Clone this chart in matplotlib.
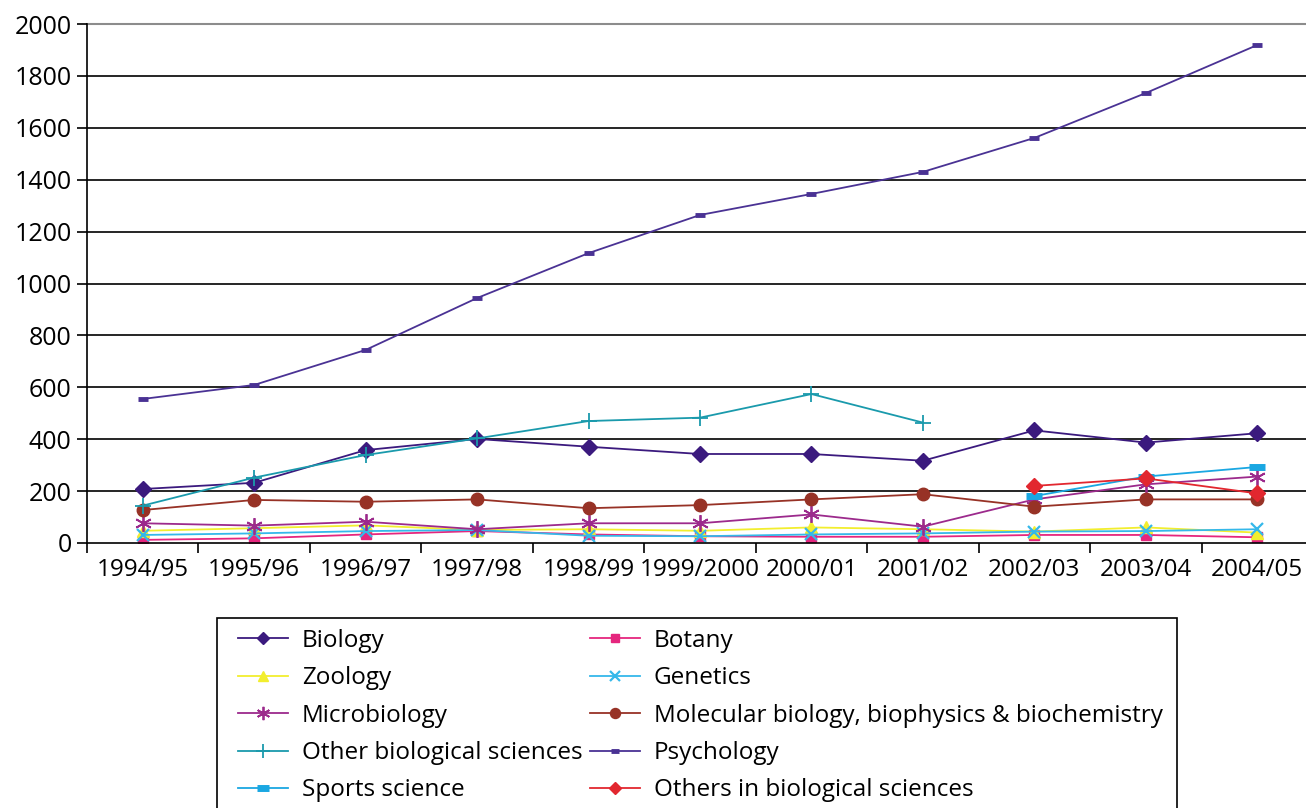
import numpy as np
import matplotlib.pyplot as plt
from matplotlib.patches import Rectangle

plt.rcParams['font.family'] = ['Open Sans', 'DejaVu Sans']

years = ["1994/95", "1995/96", "1996/97", "1997/98", "1998/99", "1999/2000",
         "2000/01", "2001/02", "2002/03", "2003/04", "2004/05"]
nan = np.nan

biology = [208, 232, 358, 401, 371, 343, 343, 317, 434, 387, 423]
botany = [12, 18, 33, 46, 33, 26, 24, 24, 31, 31, 22]
zoology = [47, 57, 68, 50, 53, 47, 60, 53, 44, 60, 40]
genetics = [31, 37, 46, 50, 28, 26, 33, 37, 44, 46, 53]
microbiology = [76, 67, 82, 53, 76, 76, 110, 63, 168, 226, 256]
molecular = [127, 166, 159, 168, 134, 146, 168, 188, 140, 168, 168]
other_bio = [144, 252, 339, 403, 470, 483, 574, 464, nan, nan, nan]
psychology = [555, 609, 744, 944, 1117, 1264, 1345, 1430, 1561, 1734, 1919]
sports = [nan, nan, nan, nan, nan, nan, nan, nan, 181, 256, 293]
others = [nan, nan, nan, nan, nan, nan, nan, nan, 220, 249, 191]

series = [
    ("Biology", biology, "#3b1a7e", dict(marker="D", ms=8)),
    ("Botany", botany, "#e5267e", dict(marker="s", ms=7)),
    ("Zoology", zoology, "#f2ee2e", dict(marker="^", ms=9)),
    ("Genetics", genetics, "#35b8ea", dict(marker="x", ms=9, mew=1.6)),
    ("Microbiology", microbiology, "#9c2a8c", dict(marker=(6, 2, 0), ms=12, mew=1.3)),
    ("Molecular biology, biophysics & biochemistry", molecular, "#973226", dict(marker="o", ms=9)),
    ("Other biological sciences", other_bio, "#1a9aac", dict(marker="+", ms=12, mew=1.3)),
    ("Psychology", psychology, "#4a3294", dict(marker="_", ms=7, mew=3.5)),
    ("Sports science", sports, "#1aa7e2", dict(marker="_", ms=11, mew=5)),
    ("Others in biological sciences", others, "#e2272f", dict(marker="D", ms=8)),
]

W, H = 1306, 808
fig = plt.figure(figsize=(W / 100, H / 100), dpi=100)
ax = fig.add_axes([87 / W, (H - 543) / H, 1226 / W, 519 / H])

x = np.arange(len(years))
handles = {}
for name, vals, col, mk in series:
    h, = ax.plot(x, vals, color=col, lw=1.3, mfc=col, mec=col, label=name, **mk)
    handles[name] = h

ax.set_xlim(-0.5, len(years) - 0.5)
ax.set_ylim(0, 2000)
ax.set_yticks(range(0, 2001, 200))
ax.set_xticks(x)
ax.set_xticklabels(years)
ax.set_xticks(np.arange(-0.5, len(years), 1), minor=True)
ax.tick_params(axis="x", which="major", length=0, pad=11, labelsize=17.5)
ax.tick_params(axis="x", which="minor", length=7, width=1.2, direction="out")
ax.tick_params(axis="y", length=7, width=1.2, labelsize=18, pad=4)
for y in range(200, 2000, 200):
    ax.axhline(y, color="black", lw=1.2, zorder=0)
ax.axhline(2000, color="#8c8c8c", lw=1.5, zorder=0, clip_on=False)
for s in ["top", "right"]:
    ax.spines[s].set_visible(False)
ax.spines["left"].set_linewidth(1.2)
ax.spines["bottom"].set_linewidth(1.2)

# legend box (runs off the bottom edge like the original)
fig.patches.append(Rectangle((217 / W, -0.05), (1177 - 217) / W, (H - 618) / H + 0.05,
                             transform=fig.transFigure, fill=False, ec="black", lw=1.2))
order = ["Biology", "Zoology", "Microbiology", "Other biological sciences", "Sports science",
         "Botany", "Genetics", "Molecular biology, biophysics & biochemistry", "Psychology",
         "Others in biological sciences"]
fig.legend([handles[n] for n in order], order, ncol=2, loc="upper left",
           bbox_to_anchor=(238 / W, 1 - 629 / H), fontsize=17.5,
           frameon=False, handlelength=2.05, handletextpad=0.58, columnspacing=0.3,
           labelspacing=0.55, borderpad=0, borderaxespad=0, markerscale=0.8)

fig.savefig("out.png", dpi=100)
